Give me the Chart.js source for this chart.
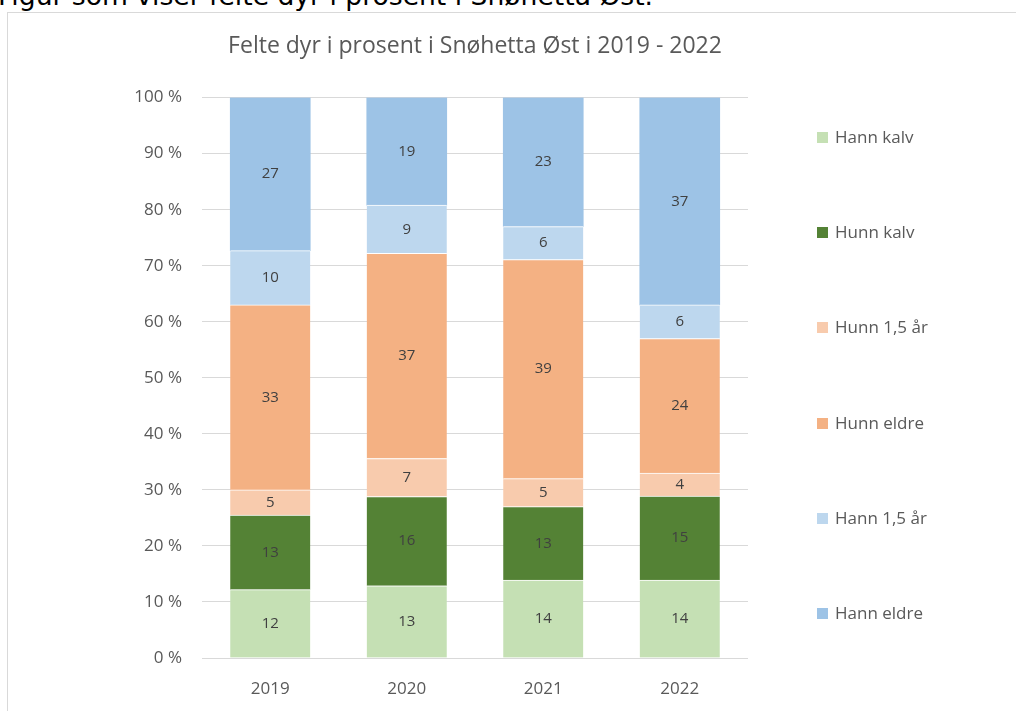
<!DOCTYPE html>
<html>
<head>
<meta charset="utf-8">
<script src="https://cdn.jsdelivr.net/npm/chart.js@4"></script>
<style>
  html, body { margin: 0; padding: 0; background: #fff; }
  body { width: 1016px; height: 711px; position: relative; overflow: hidden; }
  #caption { position: absolute; left: -2px; top: -19px; font: 26.6px "DejaVu Sans", sans-serif; line-height: 30px; color: #000; white-space: nowrap; }
  #frame { position: absolute; left: 7px; top: 12px; width: 1008px; height: 720px; border-top: 1px solid #d9d9d9; border-left: 1px solid #d9d9d9; }
  #wrap { position: absolute; left: 0; top: 0; width: 1016px; height: 711px; }
  #legend { position: absolute; left: 817px; top: 0; font: 17px "Open Sans", sans-serif; color: #595959; }
  #legend .item { position: absolute; left: 0; white-space: nowrap; line-height: 20px; height: 20px; }
  #legend .box { position: absolute; left: 0; top: 4px; width: 11px; height: 11px; }
  #legend .txt { position: absolute; left: 18px; top: -1px; }
</style>
</head>
<body>
<div id="caption">Figur som viser felte dyr i prosent i Snøhetta Øst.</div>
<div id="frame"></div>
<div id="wrap"><canvas id="chart" width="1016" height="711"></canvas></div>
<div id="legend"></div>
<script>
// andel felte dyr per år (prosent), lest av figuren
const years = ["2019", "2020", "2021", "2022"];
const hannKalv  = [12.2, 12.9, 13.9, 13.9];
const hunnKalv  = [13.3, 15.9, 13.1, 15.0];
const hunn15    = [4.5, 6.8, 5.0, 4.1];
const hunnEldre = [33.0, 36.6, 39.1, 24.0];
const hann15    = [9.7, 8.6, 5.9, 6.0];
const hannEldre = [27.3, 19.2, 23.0, 37.0];

const seriesNames  = ["Hann kalv", "Hunn kalv", "Hunn 1,5 år", "Hunn eldre", "Hann 1,5 år", "Hann eldre"];
const seriesValues = [hannKalv, hunnKalv, hunn15, hunnEldre, hann15, hannEldre];
const seriesColors = ["#C5E0B4", "#548235", "#F8CBAD", "#F4B183", "#BDD7EE", "#9DC3E6"];

const gray = "#595959";

// tall midt i hvert segment
const segmentLabels = {
  id: "segmentLabels",
  afterDatasetsDraw(chart) {
    const ctx = chart.ctx;
    ctx.save();
    ctx.font = '15px "Open Sans"';
    ctx.fillStyle = "#404040";
    ctx.textAlign = "center";
    ctx.textBaseline = "middle";
    chart.data.datasets.forEach((ds, i) => {
      chart.getDatasetMeta(i).data.forEach((bar, j) => {
        ctx.fillText(Math.round(ds.data[j]), bar.x, (bar.y + bar.base) / 2);
      });
    });
    ctx.restore();
  }
};

const last = seriesNames.length - 1;

new Chart(document.getElementById("chart"), {
  type: "bar",
  data: {
    labels: years,
    datasets: seriesNames.map((name, i) => ({
      label: name,
      data: seriesValues[i],
      backgroundColor: seriesColors[i],
      borderColor: "#ffffff",
      borderWidth: { top: i === last ? 0 : 1, bottom: 0, left: 0, right: 0 },
      borderSkipped: false,
      barThickness: 80
    }))
  },
  options: {
    responsive: false,
    animation: false,
    layout: { padding: { left: 122, right: 268, top: 0, bottom: 0 } },
    plugins: {
      legend: { display: false },
      tooltip: { enabled: false },
      title: {
        display: true,
        fullSize: false,
        text: "Felte dyr i prosent i Snøhetta Øst i 2019 - 2022",
        color: gray,
        font: { family: "Open Sans", size: 23, weight: "normal" },
        padding: { top: 33, bottom: 37 }
      }
    },
    scales: {
      x: {
        stacked: true,
        grid: { display: false },
        border: { display: false },
        ticks: { color: gray, font: { family: "Open Sans", size: 17 }, padding: 13 },
        afterFit(scale) { scale.height = 53; }
      },
      y: {
        stacked: true,
        min: 0,
        max: 100,
        grid: { color: "#d9d9d9", drawTicks: false },
        border: { display: false },
        ticks: {
          stepSize: 10,
          color: gray,
          font: { family: "Open Sans", size: 17 },
          padding: 20,
          callback: v => v + " %"
        },
        afterFit(scale) { scale.width = 80; }
      }
    }
  },
  plugins: [segmentLabels]
});

// legende til høyre
const legend = document.getElementById("legend");
seriesNames.forEach((name, i) => {
  const item = document.createElement("div");
  item.className = "item";
  item.style.top = (138 + i * 95.2 - 10) + "px";
  item.innerHTML = '<span class="box" style="background:' + seriesColors[i] + '"></span><span class="txt">' + name + "</span>";
  legend.appendChild(item);
});
</script>
</body>
</html>
